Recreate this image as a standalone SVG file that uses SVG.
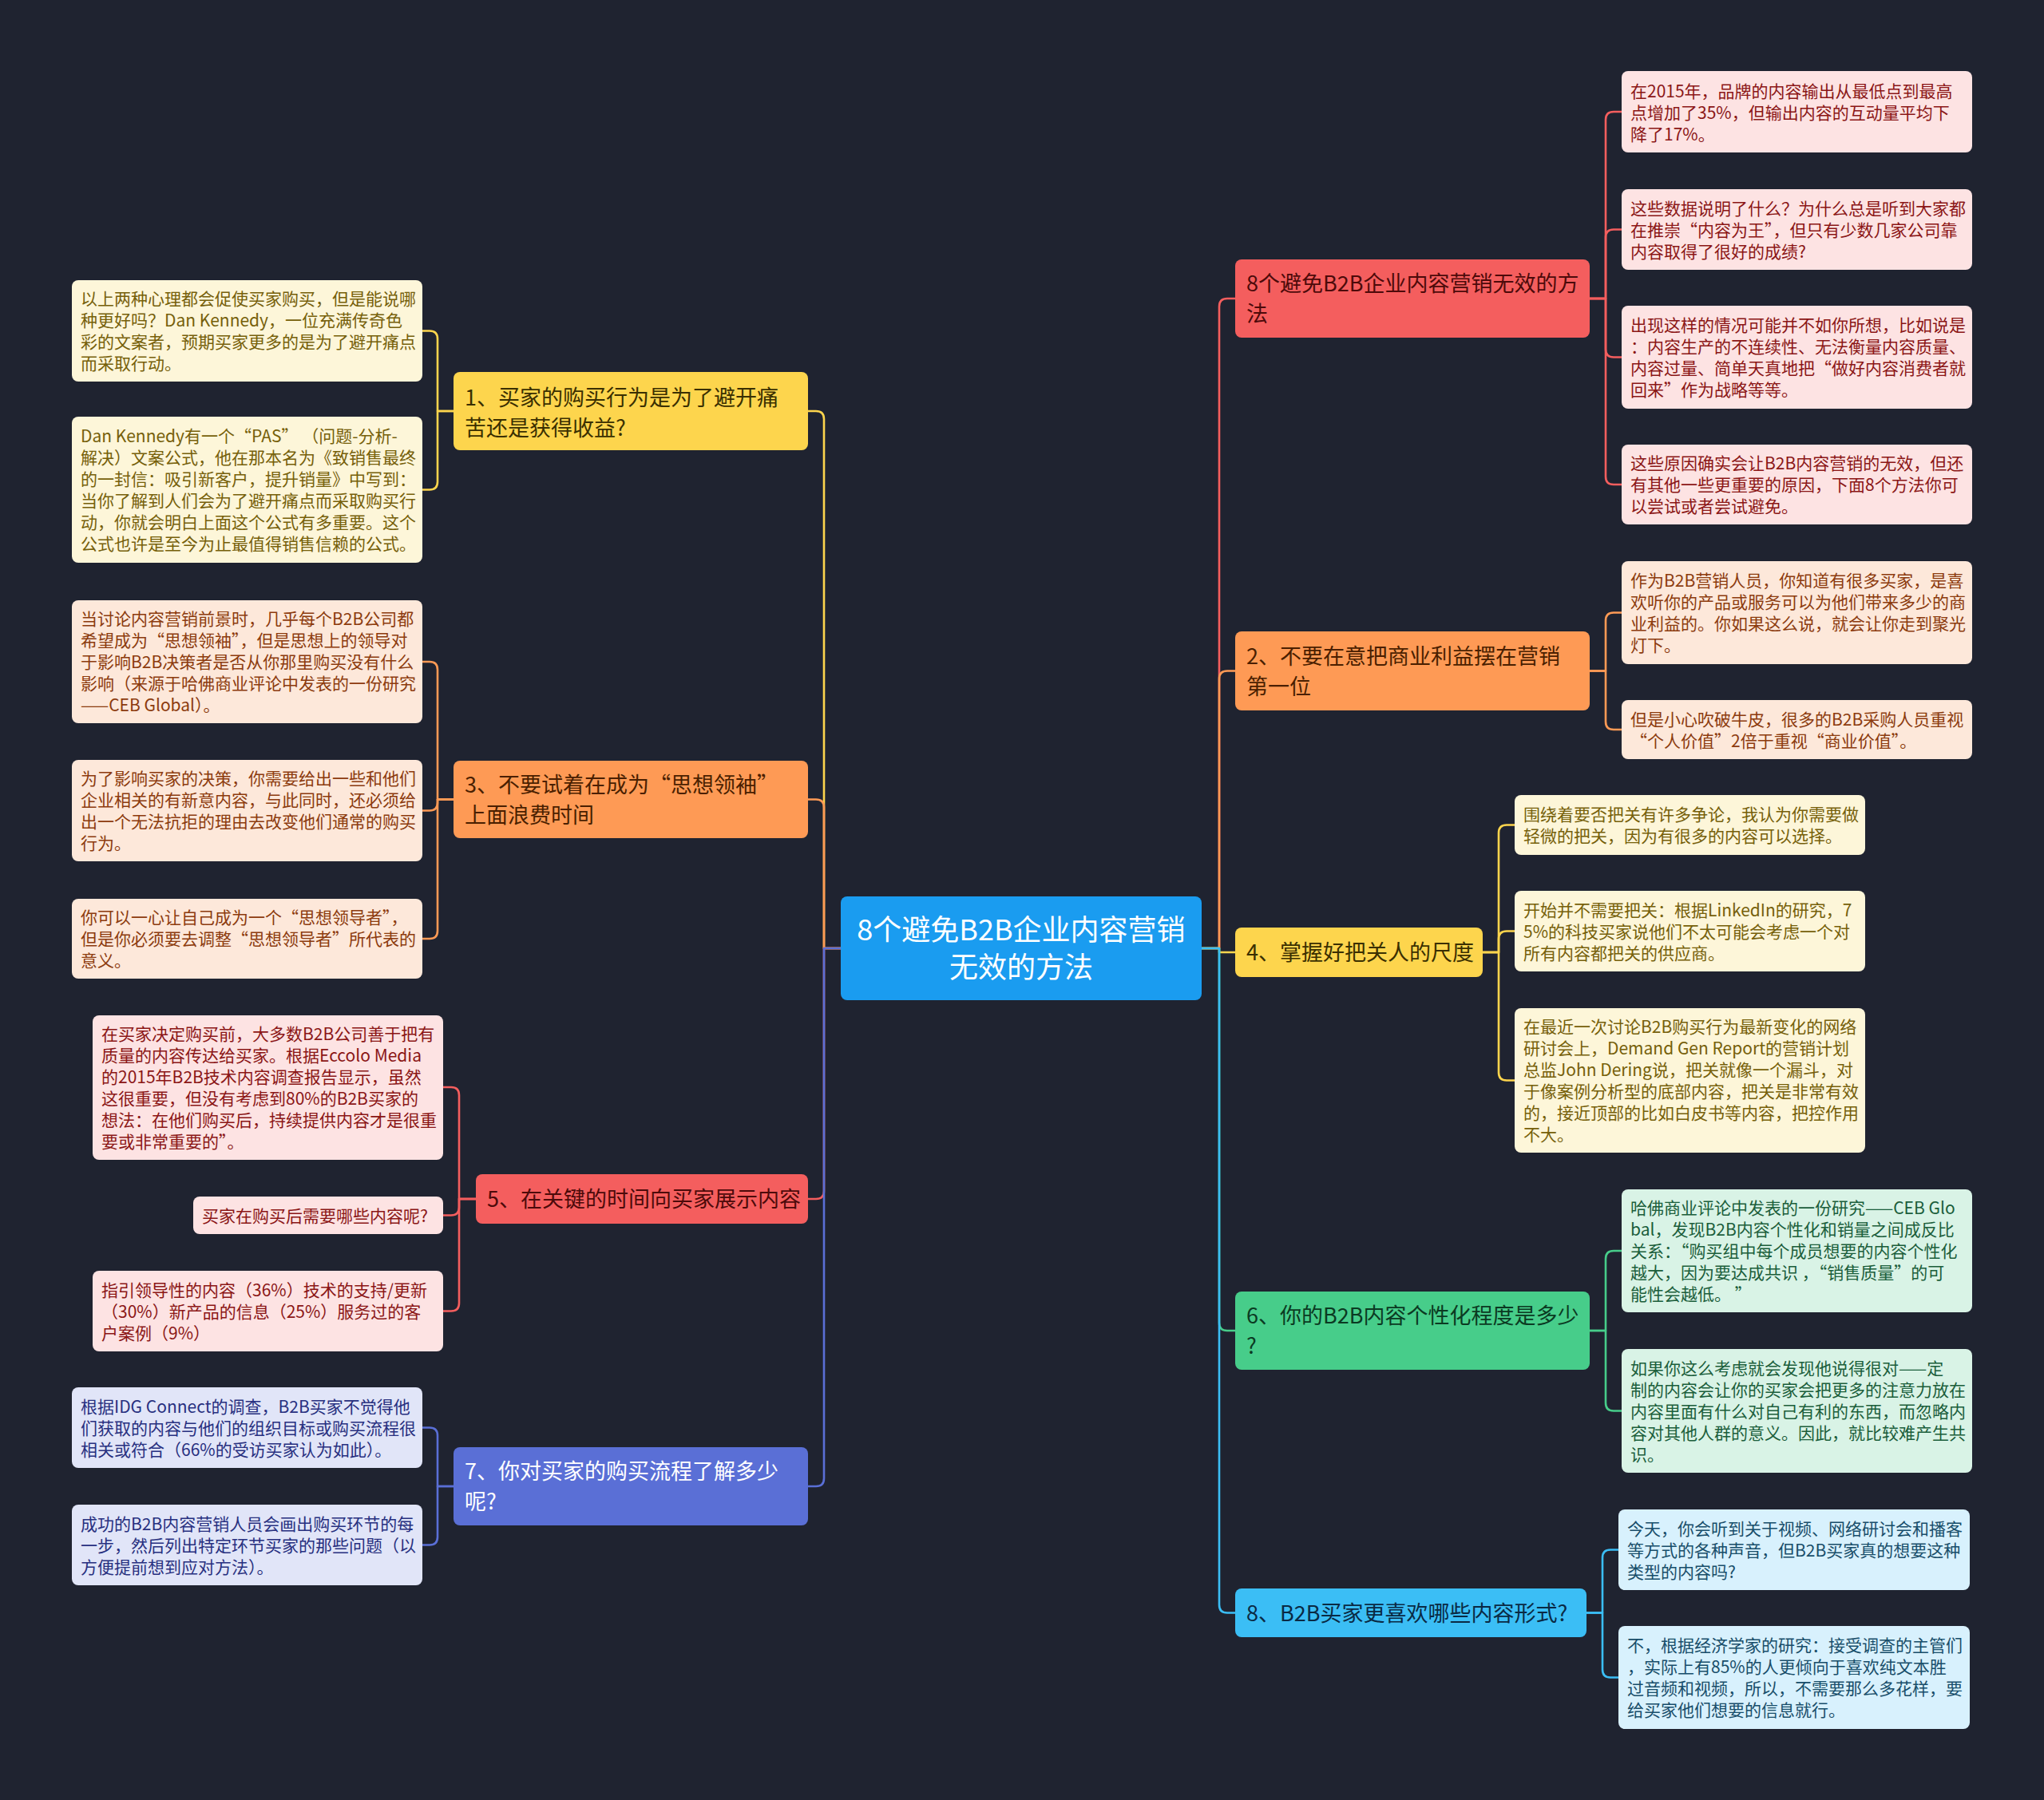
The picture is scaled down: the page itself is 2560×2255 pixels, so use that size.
<svg xmlns="http://www.w3.org/2000/svg" width="2560" height="2255" viewBox="0 0 2560 2255">
<style>
text{font-family:"Noto Sans CJK SC","Noto Sans",sans-serif}
.leaf{font-size:21px}
.br{font-size:27px}
.ctr{font-size:36px;fill:#ffffff;text-anchor:middle}
.con{fill:none;stroke-width:2.6;stroke-linejoin:round}
.cy{stroke:#fdd54d}.co{stroke:#fe9a55}.cr{stroke:#f45e5e}.cp{stroke:#5a6fd6}.cg{stroke:#47cd8a}.cb{stroke:#3bbef5}
.ny{fill:#fdd54d}.no{fill:#fe9a55}.nr{fill:#f45e5e}.np{fill:#5a6fd6}.ng{fill:#47cd8a}.nb{fill:#3bbef5}
.ty{fill:#3a2f00}.to{fill:#4a1f00}.tr{fill:#4d0a0a}.tp{fill:#ffffff}.tg{fill:#0b3a22}.tb{fill:#0a2a44}
.ly{fill:#fdf6d9}.lo{fill:#fde8da}.lr{fill:#fde3e3}.lp{fill:#e1e5f8}.lg{fill:#d9f3e6}.lb{fill:#d8f1fd}
.xy{fill:#76600a}.xo{fill:#8c3b0e}.xr{fill:#8b1616}.xp{fill:#283080}.xg{fill:#1b5e3b}.xb{fill:#184e6a}
</style>
<rect x="0" y="0" width="2560" height="2255" fill="#1f2330"/>

<g id="connectors">
<!-- center to left branches -->
<path class="con cy" d="M1053 1188 H1032 V525 Q1032 515 1022 515 H1012"/>
<path class="con co" d="M1053 1188 H1032 V1011.5 Q1032 1001.5 1022 1001.5 H1012"/>
<path class="con cr" d="M1053 1188 H1032 V1492 Q1032 1502 1022 1502 H1012"/>
<path class="con cp" d="M1053 1188 H1032 V1852 Q1032 1862 1022 1862 H1012"/>
<!-- center to right branches -->
<path class="con cr" d="M1505 1188 H1527 V384 Q1527 374 1537 374 H1547"/>
<path class="con co" d="M1505 1188 H1527 V850.5 Q1527 840.5 1537 840.5 H1547"/>
<path class="con cy" d="M1505 1188 H1527 V1193 H1547"/>
<path class="con cg" d="M1505 1188 H1527 V1657 Q1527 1667 1537 1667 H1547"/>
<path class="con cb" d="M1505 1188 H1527 V2010.5 Q1527 2020.5 1537 2020.5 H1547"/>
<!-- branch 1 leaves -->
<path class="con cy" d="M568 515 H548 V424.5 Q548 414.5 538 414.5 H529"/>
<path class="con cy" d="M568 515 H548 V603.5 Q548 613.5 538 613.5 H529"/>
<!-- branch 3 leaves -->
<path class="con co" d="M568 1001.5 H548 V839 Q548 829 538 829 H529"/>
<path class="con co" d="M568 1001.5 H548 V1005.5 Q548 1015.5 538 1015.5 H529"/>
<path class="con co" d="M568 1001.5 H548 V1166 Q548 1176 538 1176 H529"/>
<!-- branch 5 leaves -->
<path class="con cr" d="M596 1502 H575 V1372 Q575 1362 565 1362 H555"/>
<path class="con cr" d="M596 1502 H575 V1512.5 Q575 1522.5 565 1522.5 H555"/>
<path class="con cr" d="M596 1502 H575 V1632.5 Q575 1642.5 565 1642.5 H555"/>
<!-- branch 7 leaves -->
<path class="con cp" d="M568 1862 H548 V1798.5 Q548 1788.5 538 1788.5 H529"/>
<path class="con cp" d="M568 1862 H548 V1925.5 Q548 1935.5 538 1935.5 H529"/>
<!-- R0 leaves -->
<path class="con cr" d="M1991 374 H2011 V150 Q2011 140 2021 140 H2031"/>
<path class="con cr" d="M1991 374 H2011 V297.5 Q2011 287.5 2021 287.5 H2031"/>
<path class="con cr" d="M1991 374 H2011 V437.5 Q2011 447.5 2021 447.5 H2031"/>
<path class="con cr" d="M1991 374 H2011 V597 Q2011 607 2021 607 H2031"/>
<!-- R2 leaves -->
<path class="con co" d="M1991 840.5 H2011 V777.5 Q2011 767.5 2021 767.5 H2031"/>
<path class="con co" d="M1991 840.5 H2011 V904 Q2011 914 2021 914 H2031"/>
<!-- R4 leaves -->
<path class="con cy" d="M1857 1193 H1877 V1043.5 Q1877 1033.5 1887 1033.5 H1897"/>
<path class="con cy" d="M1857 1193 H1877 V1176.5 Q1877 1166.5 1887 1166.5 H1897"/>
<path class="con cy" d="M1857 1193 H1877 V1343.5 Q1877 1353.5 1887 1353.5 H1897"/>
<!-- R6 leaves -->
<path class="con cg" d="M1991 1667 H2011 V1577 Q2011 1567 2021 1567 H2031"/>
<path class="con cg" d="M1991 1667 H2011 V1757.5 Q2011 1767.5 2021 1767.5 H2031"/>
<!-- R8 leaves -->
<path class="con cb" d="M1987 2020.5 H2007 V1951.5 Q2007 1941.5 2017 1941.5 H2027"/>
<path class="con cb" d="M1987 2020.5 H2007 V2091.5 Q2007 2101.5 2017 2101.5 H2027"/>
</g>

<g id="center">
<rect x="1053" y="1123" width="452" height="130" rx="8" fill="#1a9cf0"/>
<text class="ctr"><tspan x="1279" y="1178">8个避免B2B企业内容营销</tspan><tspan x="1279" y="1225">无效的方法</tspan></text>
</g>

<g id="branch1">
<rect class="ny" x="568" y="466" width="444" height="98" rx="8"/>
<text class="br ty"><tspan x="582" y="508">1、买家的购买行为是为了避开痛</tspan><tspan x="582" y="546">苦还是获得收益?</tspan></text>
</g>
<g id="branch3">
<rect class="no" x="568" y="953" width="444" height="97" rx="8"/>
<text class="br to"><tspan x="582" y="993">3、不要试着在成为“思想领袖”</tspan><tspan x="582" y="1031">上面浪费时间</tspan></text>
</g>
<g id="branch5">
<rect class="nr" x="596" y="1471" width="416" height="62" rx="8"/>
<text class="br tr"><tspan x="610" y="1512">5、在关键的时间向买家展示内容</tspan></text>
</g>
<g id="branch7">
<rect class="np" x="568" y="1813" width="444" height="98" rx="8"/>
<text class="br tp"><tspan x="582" y="1853">7、你对买家的购买流程了解多少</tspan><tspan x="582" y="1891">呢?</tspan></text>
</g>
<g id="branchR0">
<rect class="nr" x="1547" y="325" width="444" height="98" rx="8"/>
<text class="br tr"><tspan x="1561" y="365">8个避免B2B企业内容营销无效的方</tspan><tspan x="1561" y="403">法</tspan></text>
</g>
<g id="branch2">
<rect class="no" x="1547" y="791" width="444" height="99" rx="8"/>
<text class="br to"><tspan x="1561" y="832">2、不要在意把商业利益摆在营销</tspan><tspan x="1561" y="870">第一位</tspan></text>
</g>
<g id="branch4">
<rect class="ny" x="1547" y="1162" width="310" height="62" rx="8"/>
<text class="br ty"><tspan x="1561" y="1203">4、掌握好把关人的尺度</tspan></text>
</g>
<g id="branch6">
<rect class="ng" x="1547" y="1618" width="444" height="98" rx="8"/>
<text class="br tg"><tspan x="1561" y="1658">6、你的B2B内容个性化程度是多少</tspan><tspan x="1561" y="1696">?</tspan></text>
</g>
<g id="branch8">
<rect class="nb" x="1547" y="1990" width="440" height="61" rx="8"/>
<text class="br tb"><tspan x="1561" y="2031">8、B2B买家更喜欢哪些内容形式?</tspan></text>
</g>

<g id="leaf1a">
<rect class="ly" x="90" y="351" width="439" height="127" rx="8"/>
<text class="leaf xy"><tspan x="101" y="382">以上两种心理都会促使买家购买，但是能说哪</tspan><tspan x="101" y="409">种更好吗？Dan Kennedy，一位充满传奇色</tspan><tspan x="101" y="436">彩的文案者，预期买家更多的是为了避开痛点</tspan><tspan x="101" y="463">而采取行动。</tspan></text>
</g>
<g id="leaf1b">
<rect class="ly" x="90" y="522" width="439" height="183" rx="8"/>
<text class="leaf xy"><tspan x="101" y="554">Dan Kennedy有一个“PAS” （问题-分析-</tspan><tspan x="101" y="581">解决）文案公式，他在那本名为《致销售最终</tspan><tspan x="101" y="608">的一封信：吸引新客户，提升销量》中写到：</tspan><tspan x="101" y="635">当你了解到人们会为了避开痛点而采取购买行</tspan><tspan x="101" y="662">动，你就会明白上面这个公式有多重要。这个</tspan><tspan x="101" y="689">公式也许是至今为止最值得销售信赖的公式。</tspan></text>
</g>
<g id="leaf3a">
<rect class="lo" x="90" y="752" width="439" height="154" rx="8"/>
<text class="leaf xo"><tspan x="101" y="783">当讨论内容营销前景时，几乎每个B2B公司都</tspan><tspan x="101" y="810">希望成为“思想领袖”，但是思想上的领导对</tspan><tspan x="101" y="837">于影响B2B决策者是否从你那里购买没有什么</tspan><tspan x="101" y="864">影响（来源于哈佛商业评论中发表的一份研究</tspan><tspan x="101" y="891">——CEB Global）。</tspan></text>
</g>
<g id="leaf3b">
<rect class="lo" x="90" y="952" width="439" height="127" rx="8"/>
<text class="leaf xo"><tspan x="101" y="983">为了影响买家的决策，你需要给出一些和他们</tspan><tspan x="101" y="1010">企业相关的有新意内容，与此同时，还必须给</tspan><tspan x="101" y="1037">出一个无法抗拒的理由去改变他们通常的购买</tspan><tspan x="101" y="1064">行为。</tspan></text>
</g>
<g id="leaf3c">
<rect class="lo" x="90" y="1126" width="439" height="100" rx="8"/>
<text class="leaf xo"><tspan x="101" y="1157">你可以一心让自己成为一个“思想领导者”，</tspan><tspan x="101" y="1184">但是你必须要去调整“思想领导者”所代表的</tspan><tspan x="101" y="1211">意义。</tspan></text>
</g>
<g id="leaf5a">
<rect class="lr" x="116" y="1272" width="439" height="181" rx="8"/>
<text class="leaf xr"><tspan x="127" y="1303">在买家决定购买前，大多数B2B公司善于把有</tspan><tspan x="127" y="1330">质量的内容传达给买家。根据Eccolo Media</tspan><tspan x="127" y="1357">的2015年B2B技术内容调查报告显示，虽然</tspan><tspan x="127" y="1384">这很重要，但没有考虑到80%的B2B买家的</tspan><tspan x="127" y="1411">想法：在他们购买后，持续提供内容才是很重</tspan><tspan x="127" y="1438">要或非常重要的”。</tspan></text>
</g>
<g id="leaf5b">
<rect class="lr" x="242" y="1499" width="313" height="47" rx="8"/>
<text class="leaf xr"><tspan x="253" y="1531">买家在购买后需要哪些内容呢?</tspan></text>
</g>
<g id="leaf5c">
<rect class="lr" x="116" y="1592" width="439" height="101" rx="8"/>
<text class="leaf xr"><tspan x="127" y="1624">指引领导性的内容（36%）技术的支持/更新</tspan><tspan x="127" y="1651">（30%）新产品的信息（25%）服务过的客</tspan><tspan x="127" y="1678">户案例（9%）</tspan></text>
</g>
<g id="leaf7a">
<rect class="lp" x="90" y="1738" width="439" height="101" rx="8"/>
<text class="leaf xp"><tspan x="101" y="1770">根据IDG Connect的调查，B2B买家不觉得他</tspan><tspan x="101" y="1797">们获取的内容与他们的组织目标或购买流程很</tspan><tspan x="101" y="1824">相关或符合（66%的受访买家认为如此）。</tspan></text>
</g>
<g id="leaf7b">
<rect class="lp" x="90" y="1885" width="439" height="101" rx="8"/>
<text class="leaf xp"><tspan x="101" y="1917">成功的B2B内容营销人员会画出购买环节的每</tspan><tspan x="101" y="1944">一步，然后列出特定环节买家的那些问题（以</tspan><tspan x="101" y="1971">方便提前想到应对方法）。</tspan></text>
</g>

<g id="leafR0a">
<rect class="lr" x="2031" y="89" width="439" height="102" rx="8"/>
<text class="leaf xr"><tspan x="2042" y="122">在2015年，品牌的内容输出从最低点到最高</tspan><tspan x="2042" y="149">点增加了35%，但输出内容的互动量平均下</tspan><tspan x="2042" y="176">降了17%。</tspan></text>
</g>
<g id="leafR0b">
<rect class="lr" x="2031" y="237" width="439" height="101" rx="8"/>
<text class="leaf xr"><tspan x="2042" y="269">这些数据说明了什么？为什么总是听到大家都</tspan><tspan x="2042" y="296">在推崇“内容为王”，但只有少数几家公司靠</tspan><tspan x="2042" y="323">内容取得了很好的成绩?</tspan></text>
</g>
<g id="leafR0c">
<rect class="lr" x="2031" y="383" width="439" height="129" rx="8"/>
<text class="leaf xr"><tspan x="2042" y="415">出现这样的情况可能并不如你所想，比如说是</tspan><tspan x="2042" y="442">：内容生产的不连续性、无法衡量内容质量、</tspan><tspan x="2042" y="469">内容过量、简单天真地把“做好内容消费者就</tspan><tspan x="2042" y="496">回来”作为战略等等。</tspan></text>
</g>
<g id="leafR0d">
<rect class="lr" x="2031" y="557" width="439" height="100" rx="8"/>
<text class="leaf xr"><tspan x="2042" y="588">这些原因确实会让B2B内容营销的无效，但还</tspan><tspan x="2042" y="615">有其他一些更重要的原因，下面8个方法你可</tspan><tspan x="2042" y="642">以尝试或者尝试避免。</tspan></text>
</g>
<g id="leafR2a">
<rect class="lo" x="2031" y="703" width="439" height="129" rx="8"/>
<text class="leaf xo"><tspan x="2042" y="735">作为B2B营销人员，你知道有很多买家，是喜</tspan><tspan x="2042" y="762">欢听你的产品或服务可以为他们带来多少的商</tspan><tspan x="2042" y="789">业利益的。你如果这么说，就会让你走到聚光</tspan><tspan x="2042" y="816">灯下。</tspan></text>
</g>
<g id="leafR2b">
<rect class="lo" x="2031" y="877" width="439" height="74" rx="8"/>
<text class="leaf xo"><tspan x="2042" y="909">但是小心吹破牛皮，很多的B2B采购人员重视</tspan><tspan x="2042" y="936">“个人价值”2倍于重视“商业价值”。</tspan></text>
</g>
<g id="leafR4a">
<rect class="ly" x="1897" y="996" width="439" height="75" rx="8"/>
<text class="leaf xy"><tspan x="1908" y="1028">围绕着要否把关有许多争论，我认为你需要做</tspan><tspan x="1908" y="1055">轻微的把关，因为有很多的内容可以选择。</tspan></text>
</g>
<g id="leafR4b">
<rect class="ly" x="1897" y="1116" width="439" height="101" rx="8"/>
<text class="leaf xy"><tspan x="1908" y="1148">开始并不需要把关：根据LinkedIn的研究，7</tspan><tspan x="1908" y="1175">5%的科技买家说他们不太可能会考虑一个对</tspan><tspan x="1908" y="1202">所有内容都把关的供应商。</tspan></text>
</g>
<g id="leafR4c">
<rect class="ly" x="1897" y="1263" width="439" height="181" rx="8"/>
<text class="leaf xy"><tspan x="1908" y="1294">在最近一次讨论B2B购买行为最新变化的网络</tspan><tspan x="1908" y="1321">研讨会上，Demand Gen Report的营销计划</tspan><tspan x="1908" y="1348">总监John Dering说，把关就像一个漏斗，对</tspan><tspan x="1908" y="1375">于像案例分析型的底部内容，把关是非常有效</tspan><tspan x="1908" y="1402">的，接近顶部的比如白皮书等内容，把控作用</tspan><tspan x="1908" y="1429">不大。</tspan></text>
</g>
<g id="leafR6a">
<rect class="lg" x="2031" y="1490" width="439" height="154" rx="8"/>
<text class="leaf xg"><tspan x="2042" y="1521">哈佛商业评论中发表的一份研究——CEB Glo</tspan><tspan x="2042" y="1548">bal，发现B2B内容个性化和销量之间成反比</tspan><tspan x="2042" y="1575">关系：“购买组中每个成员想要的内容个性化</tspan><tspan x="2042" y="1602">越大，因为要达成共识 ，“销售质量”的可</tspan><tspan x="2042" y="1629">能性会越低。 ”</tspan></text>
</g>
<g id="leafR6b">
<rect class="lg" x="2031" y="1690" width="439" height="155" rx="8"/>
<text class="leaf xg"><tspan x="2042" y="1722">如果你这么考虑就会发现他说得很对——定</tspan><tspan x="2042" y="1749">制的内容会让你的买家会把更多的注意力放在</tspan><tspan x="2042" y="1776">内容里面有什么对自己有利的东西，而忽略内</tspan><tspan x="2042" y="1803">容对其他人群的意义。因此，就比较难产生共</tspan><tspan x="2042" y="1830">识。</tspan></text>
</g>
<g id="leafR8a">
<rect class="lb" x="2027" y="1891" width="440" height="101" rx="8"/>
<text class="leaf xb"><tspan x="2038" y="1923">今天，你会听到关于视频、网络研讨会和播客</tspan><tspan x="2038" y="1950">等方式的各种声音，但B2B买家真的想要这种</tspan><tspan x="2038" y="1977">类型的内容吗?</tspan></text>
</g>
<g id="leafR8b">
<rect class="lb" x="2027" y="2037" width="440" height="129" rx="8"/>
<text class="leaf xb"><tspan x="2038" y="2069">不，根据经济学家的研究：接受调查的主管们</tspan><tspan x="2038" y="2096">，实际上有85%的人更倾向于喜欢纯文本胜</tspan><tspan x="2038" y="2123">过音频和视频，所以，不需要那么多花样，要</tspan><tspan x="2038" y="2150">给买家他们想要的信息就行。</tspan></text>
</g>
</svg>
